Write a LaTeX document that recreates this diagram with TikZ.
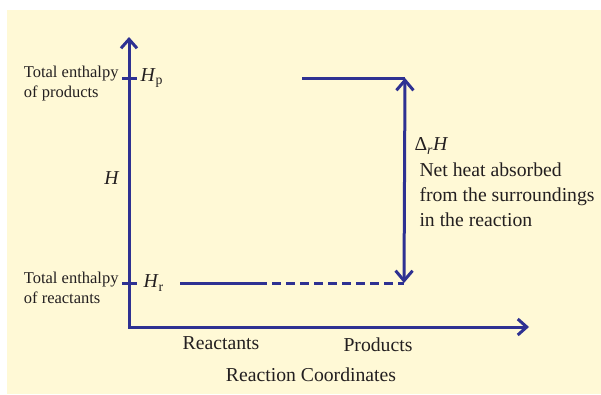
\documentclass[tikz,border=0pt]{standalone}
\usepackage{fontspec}
\setmainfont{Liberation Serif}
\usetikzlibrary{arrows.meta, positioning}
\definecolor{inkblue}{HTML}{2E3192}
\definecolor{paper}{HTML}{FFF9D6}
\definecolor{inktext}{HTML}{231F20}

\begin{document}
\begin{tikzpicture}[x=1pt, y=-1pt, line width=3pt,
  smalltxt/.style={font=\fontsize{16.5}{20}\selectfont, text=inktext, inner sep=0pt, align=left},
  bigtxt/.style={font=\fontsize{19.7}{25}\selectfont, text=inktext, inner sep=0pt, align=left}]

  \useasboundingbox (0,0) rectangle (601,394);
  \fill[paper] (7,10) rectangle (601,394);

  % Axes
  \coordinate (O) at (129,327);
  \coordinate (ytop) at (129,37);
  \coordinate (xend) at (529,327);
  \draw[inkblue, {Straight Barb[length=9pt, width=16pt]}-{Straight Barb[length=9pt, width=16pt]}]
    (ytop) -- (O) -- (xend);

  % Ticks and levels
  \coordinate (tp) at (129,78);
  \coordinate (tr) at (129,283);
  \draw[inkblue] ([xshift=-7pt]tp) -- ([xshift=8pt]tp);
  \draw[inkblue] ([xshift=-7pt]tr) -- ([xshift=8pt]tr);
  \coordinate (r1) at (180,283); \coordinate (r2) at (267,283);
  \coordinate (r3) at (404,283);
  \coordinate (p1) at (302,78); \coordinate (p2) at (405,78);
  \draw[inkblue] (r1) -- (r2);
  \draw[inkblue, dash pattern=on 9pt off 5pt, dash phase=9pt] (r2) -- (r3);
  \draw[inkblue] (p1) -- (p2);
  \draw[inkblue, {Straight Barb[length=10pt, width=17pt]}-{Straight Barb[length=10pt, width=17pt]}]
    (p2) -- (r3);

  % Labels
  \node[smalltxt, anchor=east] (totp) at (120,84) {Total enthalpy\\of products};
  \node[smalltxt, anchor=east] (totr) at (120,288) {Total enthalpy\\of reactants};
  \node[bigtxt, anchor=west] (Hp) at (139,78) {\textit{H}\textsubscript{p}};
  \node[bigtxt, anchor=west] (Hr) at (142,283) {\textit{H}\textsubscript{r}};
  \node[bigtxt] (H) at (112,178) {\textit{H}};
  \node[bigtxt, anchor=west] (dH) at (413,146) {Δ\textsubscript{\textit{r}}\textit{H}};
  \node[bigtxt, anchor=north west] (net) at (418,161)
    {Net heat absorbed\\from the surroundings\\in the reaction};
  \node[bigtxt] (reac) at (221,343) {Reactants};
  \node[bigtxt] (prod) at (378,345) {Products};
  \node[bigtxt] (coord) at (311,375) {Reaction Coordinates};

\end{tikzpicture}
\end{document}
